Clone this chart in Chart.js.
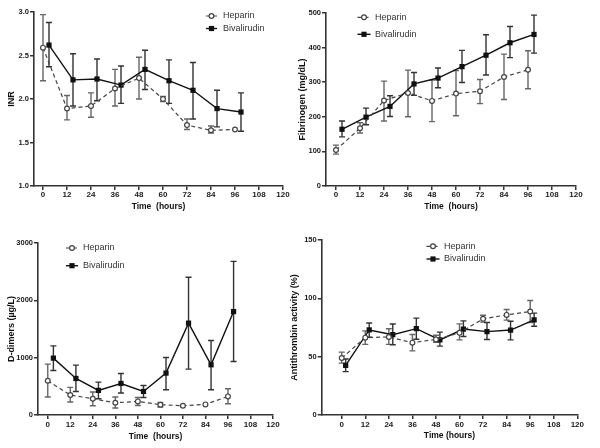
<!DOCTYPE html>
<html>
<head>
<meta charset="utf-8">
<script src="https://cdn.jsdelivr.net/npm/chart.js@4/dist/chart.umd.min.js"></script>
<style>
  body { margin: 0; background: #fff; }
  #wrap { position: relative; width: 600px; height: 448px; overflow: hidden; }
  #wrap canvas { position: absolute; }
</style>
</head>
<body>
<div id="wrap">
  <canvas id="inr" width="292" height="224" style="left:0;top:0"></canvas>
  <canvas id="fib" width="308" height="224" style="left:292px;top:0"></canvas>
  <canvas id="ddim" width="285" height="224" style="left:0;top:224px"></canvas>
  <canvas id="at" width="315" height="224" style="left:285px;top:224px"></canvas>
</div>
<script>
// time points (hours)
var hepHours = [0, 12, 24, 36, 48, 60, 72, 84, 96];
var bivHours = [3, 15, 27, 39, 51, 63, 75, 87, 99];
var bivHoursAT = [2, 14, 26, 38, 50, 62, 74, 86, 98];
var xTicks = [0, 12, 24, 36, 48, 60, 72, 84, 96, 108, 120];
var seriesNames = ["Heparin", "Bivalirudin"];

// INR
var inrHep = [2.59, 1.89, 1.92, 2.12, 2.24, 2.00, 1.70, 1.64, 1.65];
var inrHepHi = [2.97, 2.04, 2.07, 2.34, 2.48, 2.03, 1.77, 1.69, 1.65];
var inrHepLo = [2.21, 1.76, 1.79, 1.92, 2.00, 1.97, 1.65, 1.61, 1.65];
var inrBiv = [2.62, 2.22, 2.23, 2.16, 2.34, 2.21, 2.10, 1.89, 1.85];
var inrBivHi = [2.88, 2.52, 2.46, 2.38, 2.56, 2.45, 2.42, 2.10, 2.07];
var inrBivLo = [2.37, 1.92, 1.98, 1.95, 2.11, 1.95, 1.77, 1.68, 1.63];

// Fibrinogen (mg/dL)
var fibHep = [104, 167, 247, 269, 246, 267, 274, 315, 336];
var fibHepHi = [118, 183, 303, 335, 306, 334, 308, 381, 391];
var fibHepLo = [92, 153, 188, 200, 186, 203, 238, 250, 281];
var fibBiv = [164, 199, 230, 295, 312, 345, 378, 414, 438];
var fibBivHi = [188, 225, 261, 328, 341, 392, 437, 461, 494];
var fibBivLo = [142, 177, 201, 262, 284, 299, 321, 371, 384];

// D-dimers (µg/L)
var ddHep = [597, 348, 284, 214, 237, 179, 162, 185, 324];
var ddHepHi = [888, 481, 400, 313, 306, 219, 162, 185, 458];
var ddHepLo = [313, 226, 162, 122, 167, 139, 162, 185, 197];
var ddBiv = [992, 637, 429, 550, 411, 731, 1602, 876, 1804];
var ddBivHi = [1206, 870, 574, 724, 515, 1003, 2403, 1299, 2680];
var ddBivLo = [777, 411, 284, 383, 306, 440, 801, 440, 933];

// Antithrombin activity (%)
var atHep = [48.8, 66.3, 66.9, 62.0, 64.8, 70.4, 82.4, 85.8, 88.7];
var atHepHi = [53.9, 72.1, 73.9, 69.0, 68.4, 78.1, 85.5, 90.4, 98.1];
var atHepLo = [44.5, 60.5, 60.5, 55.0, 62.4, 64.4, 79.6, 81.3, 79.3];
var atBiv = [42.6, 72.9, 68.8, 74.0, 64.4, 73.7, 71.5, 72.8, 81.5];
var atBivHi = [48.0, 78.9, 78.0, 83.0, 71.0, 80.7, 79.3, 80.4, 87.3];
var atBivLo = [37.2, 66.6, 60.2, 64.9, 59.0, 67.3, 64.7, 64.4, 76.1];

var FONT = "'Liberation Sans', Arial, sans-serif";
var hepColor = "#444";
var bivColor = "#111";

function points(xs, ys) {
  return xs.map(function(x, i) { return { x: x, y: ys[i] }; });
}

// vertical SD bars with caps, drawn under the markers
var errorBars = {
  id: "errorBars",
  beforeDatasetsDraw: function(chart) {
    var ctx = chart.ctx;
    var yScale = chart.scales.y;
    chart.data.datasets.forEach(function(ds, di) {
      var meta = chart.getDatasetMeta(di);
      ctx.save();
      ctx.strokeStyle = ds.errColor;
      ctx.lineWidth = 1.4;
      meta.data.forEach(function(pt, i) {
        var top = yScale.getPixelForValue(ds.hi[i]);
        var bot = yScale.getPixelForValue(ds.lo[i]);
        if (Math.abs(bot - top) < 1) return;
        ctx.beginPath();
        ctx.moveTo(pt.x, top); ctx.lineTo(pt.x, bot);
        ctx.moveTo(pt.x - 3, top); ctx.lineTo(pt.x + 3, top);
        ctx.moveTo(pt.x - 3, bot); ctx.lineTo(pt.x + 3, bot);
        ctx.stroke();
      });
      ctx.restore();
    });
  }
};

// GraphPad style legend: short line with marker, then label
var lineLegend = {
  id: "lineLegend",
  afterDraw: function(chart, args, opts) {
    var ctx = chart.ctx;
    chart.data.datasets.forEach(function(ds, di) {
      var y = opts.ys[di];
      var cx = opts.cx;
      ctx.save();
      ctx.strokeStyle = ds.borderColor;
      ctx.lineWidth = ds.borderWidth;
      ctx.setLineDash(ds.borderDash || []);
      ctx.beginPath();
      ctx.moveTo(cx - opts.half, y); ctx.lineTo(cx + opts.half, y);
      ctx.stroke();
      ctx.setLineDash([]);
      ctx.lineWidth = 1.2;
      if (ds.pointStyle == "rect") {
        ctx.fillStyle = ds.pointBackgroundColor;
        ctx.fillRect(cx - 2.6, y - 2.6, 5.2, 5.2);
      } else {
        ctx.fillStyle = "#fff";
        ctx.beginPath();
        ctx.arc(cx, y, 2.4, 0, Math.PI * 2);
        ctx.fill();
        ctx.stroke();
      }
      ctx.fillStyle = "#333";
      ctx.font = "9px " + FONT;
      ctx.textBaseline = "middle";
      ctx.fillText(ds.label, opts.tx, y);
      ctx.restore();
    });
  }
};

function makePanel(p) {
  var datasets = [
    {
      label: seriesNames[0],
      data: points(hepHours, p.hep),
      hi: p.hepHi, lo: p.hepLo,
      errColor: "#666",
      borderColor: hepColor, borderWidth: 1.2, borderDash: [4, 3],
      pointStyle: "circle", pointRadius: 2.4,
      pointBackgroundColor: "#fff", pointBorderColor: hepColor, pointBorderWidth: 1.2
    },
    {
      label: seriesNames[1],
      data: points(p.bivX, p.biv),
      hi: p.bivHi, lo: p.bivLo,
      errColor: "#333",
      borderColor: bivColor, borderWidth: 1.4,
      pointStyle: "rect", pointRadius: 3.7,
      pointBackgroundColor: bivColor, pointBorderColor: bivColor, pointBorderWidth: 0
    }
  ];

  new Chart(document.getElementById(p.id), {
    type: "line",
    data: { datasets: datasets },
    plugins: [errorBars, lineLegend],
    options: {
      responsive: false,
      animation: false,
      devicePixelRatio: 1,
      layout: { padding: p.pad },
      plugins: {
        legend: { display: false },
        tooltip: { enabled: false },
        lineLegend: p.legend
      },
      scales: {
        x: {
          type: "linear",
          min: p.xMin,
          max: 120,
          afterBuildTicks: function(s) {
            s.ticks = xTicks.map(function(v) { return { value: v }; });
          },
          afterFit: function(s) { s.height = p.xH; },
          border: { display: true, color: "#333", width: 1.6 },
          grid: { display: true, drawOnChartArea: false, drawTicks: true, tickLength: 4, color: "#333", lineWidth: 1.5 },
          ticks: { font: { family: FONT, size: 8, weight: "bold" }, color: "#1a1a1a", padding: p.xTickPad, maxRotation: 0, autoSkip: false },
          title: { display: true, text: p.xTitle, font: { family: FONT, size: 8.5, weight: "bold" }, color: "#111", padding: 0 }
        },
        y: {
          min: p.yMin,
          max: p.yMax,
          afterFit: function(s) { s.width = p.yW; },
          border: { display: true, color: "#333", width: 1.6 },
          grid: { display: true, drawOnChartArea: false, drawTicks: true, tickLength: 4, color: "#333", lineWidth: 1.5 },
          ticks: {
            stepSize: p.yStep,
            padding: 1,
            font: { family: FONT, size: 7.5, weight: "bold" },
            color: "#1a1a1a",
            callback: function(v) { return p.yDec ? v.toFixed(p.yDec) : v; }
          },
          title: { display: true, text: p.yTitle, font: { family: FONT, size: 9, weight: "bold" }, color: "#111", padding: 0 }
        }
      }
    }
  });
}

makePanel({
  id: "inr", hep: inrHep, hepHi: inrHepHi, hepLo: inrHepLo,
  bivX: bivHours, biv: inrBiv, bivHi: inrBivHi, bivLo: inrBivLo,
  pad: { left: 6, top: 12, right: 9, bottom: 12 }, yW: 28, xH: 26, xTickPad: 0, xMin: -4.5,
  yMin: 1, yMax: 3, yStep: 0.5, yDec: 1, yTitle: "INR", xTitle: "Time  (hours)",
  legend: { cx: 211.5, half: 5.5, ys: [16, 28.5], tx: 223 }
});

makePanel({
  id: "fib", hep: fibHep, hepHi: fibHepHi, hepLo: fibHepLo,
  bivX: bivHours, biv: fibBiv, bivHi: fibBivHi, bivLo: fibBivLo,
  pad: { left: 5.5, top: 13, right: 24, bottom: 12 }, yW: 28.5, xH: 26, xTickPad: 0, xMin: -5,
  yMin: 0, yMax: 500, yStep: 100, yDec: 0, yTitle: "Fibrinogen (mg/dL)", xTitle: "Time  (hours)",
  legend: { cx: 72, half: 6.5, ys: [17.3, 34.3], tx: 83 }
});

makePanel({
  id: "ddim", hep: ddHep, hepHi: ddHepHi, hepLo: ddHepLo,
  bivX: bivHours, biv: ddBiv, bivHi: ddBivHi, bivLo: ddBivLo,
  pad: { left: 6, top: 19, right: 12, bottom: 6.3 }, yW: 32, xH: 26.7, xTickPad: 1, xMin: -5.2,
  yMin: 0, yMax: 3000, yStep: 1000, yDec: 0, yTitle: "D-dimers (µg/L)", xTitle: "Time  (hours)",
  legend: { cx: 72, half: 6, ys: [24, 41.7], tx: 83 }
});

makePanel({
  id: "at", hep: atHep, hepHi: atHepHi, hepLo: atHepLo,
  bivX: bivHoursAT, biv: atBiv, bivHi: atBivHi, bivLo: atBivLo,
  pad: { left: 4, top: 16, right: 22.7, bottom: 7 }, yW: 32.7, xH: 26, xTickPad: 1, xMin: -10.2,
  yMin: 0, yMax: 150, yStep: 50, yDec: 0, yTitle: "Antithrombin activity (%)", xTitle: "Time (hours)",
  legend: { cx: 148, half: 6.5, ys: [22.3, 35], tx: 159 }
});
</script>
</body>
</html>
